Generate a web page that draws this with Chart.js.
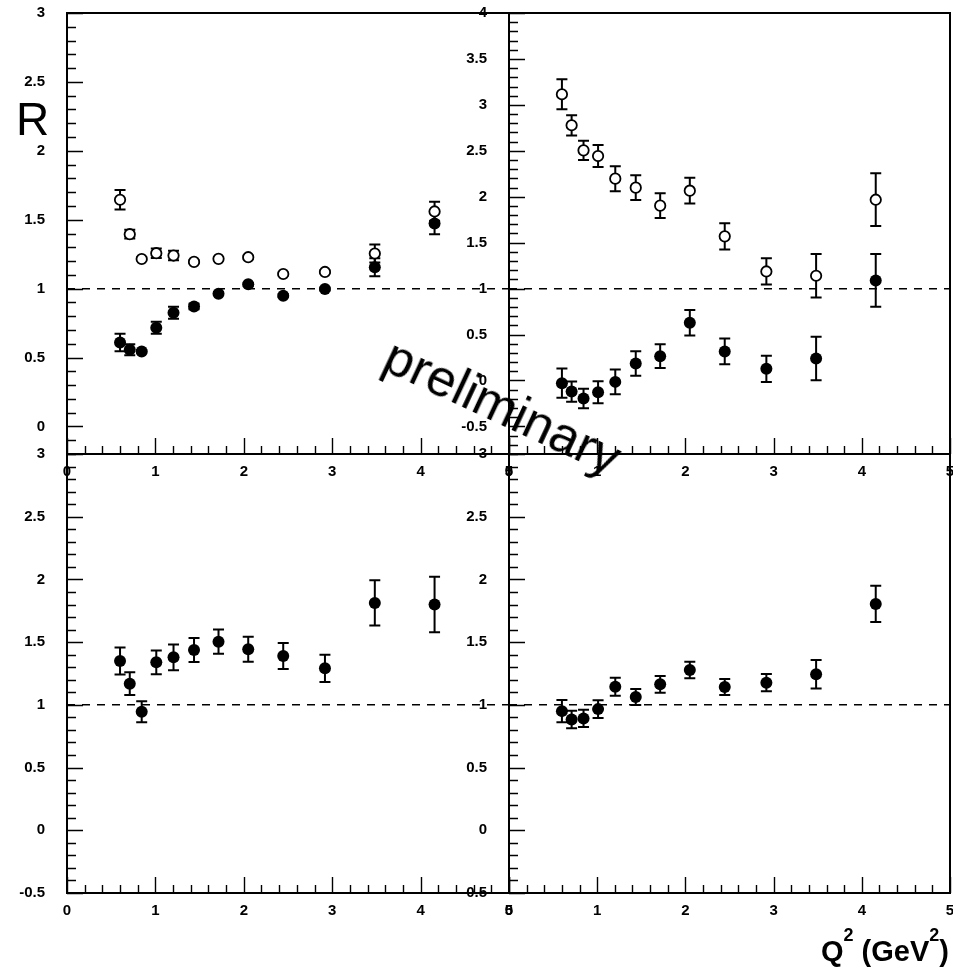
<!DOCTYPE html>
<html>
<head>
<meta charset="utf-8">
<title>R vs Q2</title>
<script src="https://cdn.jsdelivr.net/npm/chart.js@4.4.1/dist/chart.umd.min.js"></script>
<style>
  html, body { margin: 0; padding: 0; background: #fff; overflow: hidden; }
  body { position: relative; width: 953px; height: 967px; font-family: "Liberation Sans", Arial, sans-serif; }
  canvas { position: absolute; left: 0; top: -60px; }
  .txt { position: absolute; color: #000; white-space: nowrap; }
  #ylab { left: 16px; top: 96px; font-size: 46px; line-height: 46px; }
  #xlab { right: 4px; top: 937px; font-size: 29px; line-height: 29px; font-weight: bold; }
  #xlab span { font-size: 18px; position: relative; top: -20px; }
  #prelim { left: 503px; top: 406px; font-size: 52px; line-height: 52px; transform: translate(-50%, -50%) rotate(25deg); }
</style>
</head>
<body>
<canvas id="tl" width="1000" height="1027"></canvas>
<canvas id="tr" width="1000" height="1027"></canvas>
<canvas id="bl" width="1000" height="1027"></canvas>
<canvas id="br" width="1000" height="1027"></canvas>
<div class="txt" id="ylab">R</div>
<div class="txt" id="xlab">Q<span>2</span> (GeV<span>2</span>)</div>
<div class="txt" id="prelim">preliminary</div>
<script>
// Q^2 bins (GeV^2), shared by all four panels
const q2 = [0.6, 0.71, 0.845, 1.01, 1.205, 1.437, 1.714, 2.05, 2.446, 2.918, 3.482, 4.158];

// top left
const tlOpen = [1.645, 1.395, 1.215, 1.257, 1.240, 1.194, 1.216, 1.228, 1.106, 1.121, 1.255, 1.560];
const tlOpenErr = [0.07, 0.032, 0.01, 0.035, 0.035, 0.01, 0.01, 0.01, 0.01, 0.01, 0.065, 0.07];
const tlFilled = [0.609, 0.556, 0.544, 0.716, 0.825, 0.871, 0.963, 1.031, 0.949, 0.997, 1.155, 1.473];
const tlFilledErr = [0.064, 0.04, 0.01, 0.043, 0.043, 0.02, 0.01, 0.01, 0.01, 0.01, 0.065, 0.078];

// top right
const trOpen = [3.115, 2.778, 2.505, 2.443, 2.197, 2.099, 1.903, 2.066, 1.569, 1.187, 1.140, 1.968];
const trOpenErr = [0.163, 0.11, 0.105, 0.12, 0.136, 0.134, 0.134, 0.14, 0.143, 0.143, 0.236, 0.287];
const trFilled = [-0.029, -0.12, -0.196, -0.127, -0.015, 0.185, 0.265, 0.628, 0.316, 0.127, 0.24, 1.089];
const trFilledErr = [0.16, 0.11, 0.105, 0.12, 0.134, 0.134, 0.13, 0.138, 0.14, 0.143, 0.236, 0.287];

// bottom left / bottom right
const blFilled = [1.350, 1.169, 0.945, 1.339, 1.379, 1.438, 1.504, 1.443, 1.390, 1.291, 1.813, 1.800];
const blFilledErr = [0.107, 0.09, 0.083, 0.095, 0.103, 0.096, 0.097, 0.1, 0.104, 0.108, 0.18, 0.222];
const brFilled = [0.950, 0.884, 0.892, 0.966, 1.145, 1.062, 1.164, 1.278, 1.142, 1.177, 1.244, 1.805];
const brFilledErr = [0.089, 0.07, 0.068, 0.07, 0.072, 0.064, 0.067, 0.065, 0.064, 0.069, 0.113, 0.144];

// axis ticks
const xTicks = [0, 1, 2, 3, 4, 5];
const yTicksTL = [0, 0.5, 1, 1.5, 2, 2.5, 3];
const yTicksTR = [-0.5, 0, 0.5, 1, 1.5, 2, 2.5, 3, 3.5, 4];
const yTicksB = [-0.5, 0, 0.5, 1, 1.5, 2, 2.5, 3];
const refLine = 1;

// canvases are larger than the page (shifted up by OFF, right edge clipped)
const CW = 1000, CH = 1027, OFF = 60;
const Y_W = 60, X_H = 40;    // fixed axis box sizes
const CAP = 5.5;
const FONT = 'Liberation Sans';

// ROOT-like frame, inward ticks and error bars
const rootFrame = {
    id: 'rootFrame',
    beforeDatasetsDraw(chart) {
        const { ctx, scales: { x, y } } = chart;
        ctx.save();
        ctx.strokeStyle = '#000';
        ctx.lineWidth = 2;
        chart.data.datasets.forEach(ds => {
            if (!ds.yErr) return;
            ds.data.forEach((p, i) => {
                const e = ds.yErr[i];
                const px = x.getPixelForValue(p.x);
                const y1 = y.getPixelForValue(p.y + e);
                const y2 = y.getPixelForValue(p.y - e);
                ctx.beginPath();
                ctx.moveTo(px, y1); ctx.lineTo(px, y2);
                ctx.moveTo(px - CAP, y1); ctx.lineTo(px + CAP, y1);
                ctx.moveTo(px - CAP, y2); ctx.lineTo(px + CAP, y2);
                ctx.stroke();
            });
        });
        ctx.restore();
    },
    afterDraw(chart) {
        const { ctx, chartArea: a, scales: { x, y } } = chart;
        ctx.save();
        ctx.strokeStyle = '#000';
        ctx.lineWidth = 1.4;
        ctx.beginPath();
        for (let k = Math.ceil(y.min * 10 - 1e-9); k <= Math.floor(y.max * 10 + 1e-9); k++) {
            const py = Math.round(y.getPixelForValue(k / 10)) + 0.5;
            const len = k % 5 === 0 ? 16 : 9;
            ctx.moveTo(a.left, py); ctx.lineTo(a.left + len, py);
        }
        for (let k = Math.ceil(x.min * 5); k <= Math.floor(x.max * 5); k++) {
            const px = Math.round(x.getPixelForValue(k / 5)) + 0.5;
            const len = k % 5 === 0 ? 16 : 8;
            ctx.moveTo(px, a.bottom); ctx.lineTo(px, a.bottom - len);
        }
        ctx.stroke();
        ctx.lineWidth = 2;
        ctx.strokeRect(a.left, a.top, a.right - a.left, a.bottom - a.top);
        ctx.restore();
    }
};

function points(ys) {
    return q2.map((x, i) => ({ x: x, y: ys[i] }));
}

function series(ys, errs, open) {
    return {
        data: points(ys),
        yErr: errs,
        pointRadius: open ? 5.2 : 6,
        pointBorderWidth: open ? 1.8 : 0,
        pointBackgroundColor: open ? '#fff' : '#000',
        pointBorderColor: '#000',
        showLine: false,
        order: open ? 2 : 1
    };
}

// rect is given in page pixels
function panel(id, rect, yMin, yMax, yTicks, sets) {
    const dashed = {
        type: 'line',
        data: [{ x: 0, y: refLine }, { x: 5, y: refLine }],
        borderColor: '#000',
        borderWidth: 1.5,
        borderDash: [8, 7],
        pointRadius: 0,
        showLine: true,
        order: 3
    };
    const tickFont = { family: FONT, size: 15, weight: 'bold' };
    return new Chart(document.getElementById(id), {
        type: 'scatter',
        data: { datasets: [dashed].concat(sets) },
        options: {
            responsive: false,
            animation: false,
            events: [],
            layout: {
                padding: {
                    left: rect.left - Y_W,
                    right: CW - rect.right,
                    top: rect.top + OFF,
                    bottom: CH - (rect.bottom + OFF) - X_H
                }
            },
            plugins: { legend: { display: false }, tooltip: { enabled: false } },
            scales: {
                x: {
                    type: 'linear', min: 0, max: 5,
                    grid: { display: false, drawTicks: false },
                    border: { display: false },
                    ticks: { color: '#000', font: tickFont, padding: 9, autoSkip: false, maxRotation: 0, callback: v => String(v) },
                    afterBuildTicks: s => { s.ticks = xTicks.map(v => ({ value: v })); },
                    afterFit: s => { s.height = X_H; }
                },
                y: {
                    type: 'linear', min: yMin, max: yMax,
                    grid: { display: false, drawTicks: false },
                    border: { display: false },
                    ticks: { color: '#000', font: tickFont, padding: 22, autoSkip: false, callback: v => String(v) },
                    afterBuildTicks: s => { s.ticks = yTicks.map(v => ({ value: v })); },
                    afterFit: s => { s.width = Y_W; }
                }
            }
        },
        plugins: [rootFrame]
    });
}

panel('tl', { left: 67, right: 509, top: 13, bottom: 454 }, -0.2, 3, yTicksTL,
    [series(tlOpen, tlOpenErr, true), series(tlFilled, tlFilledErr, false)]);
panel('tr', { left: 509, right: 950, top: 13, bottom: 454 }, -0.8, 4, yTicksTR,
    [series(trOpen, trOpenErr, true), series(trFilled, trFilledErr, false)]);
panel('bl', { left: 67, right: 509, top: 454, bottom: 893 }, -0.5, 3, yTicksB,
    [series(blFilled, blFilledErr, false)]);
panel('br', { left: 509, right: 950, top: 454, bottom: 893 }, -0.5, 3, yTicksB,
    [series(brFilled, brFilledErr, false)]);
</script>
</body>
</html>
